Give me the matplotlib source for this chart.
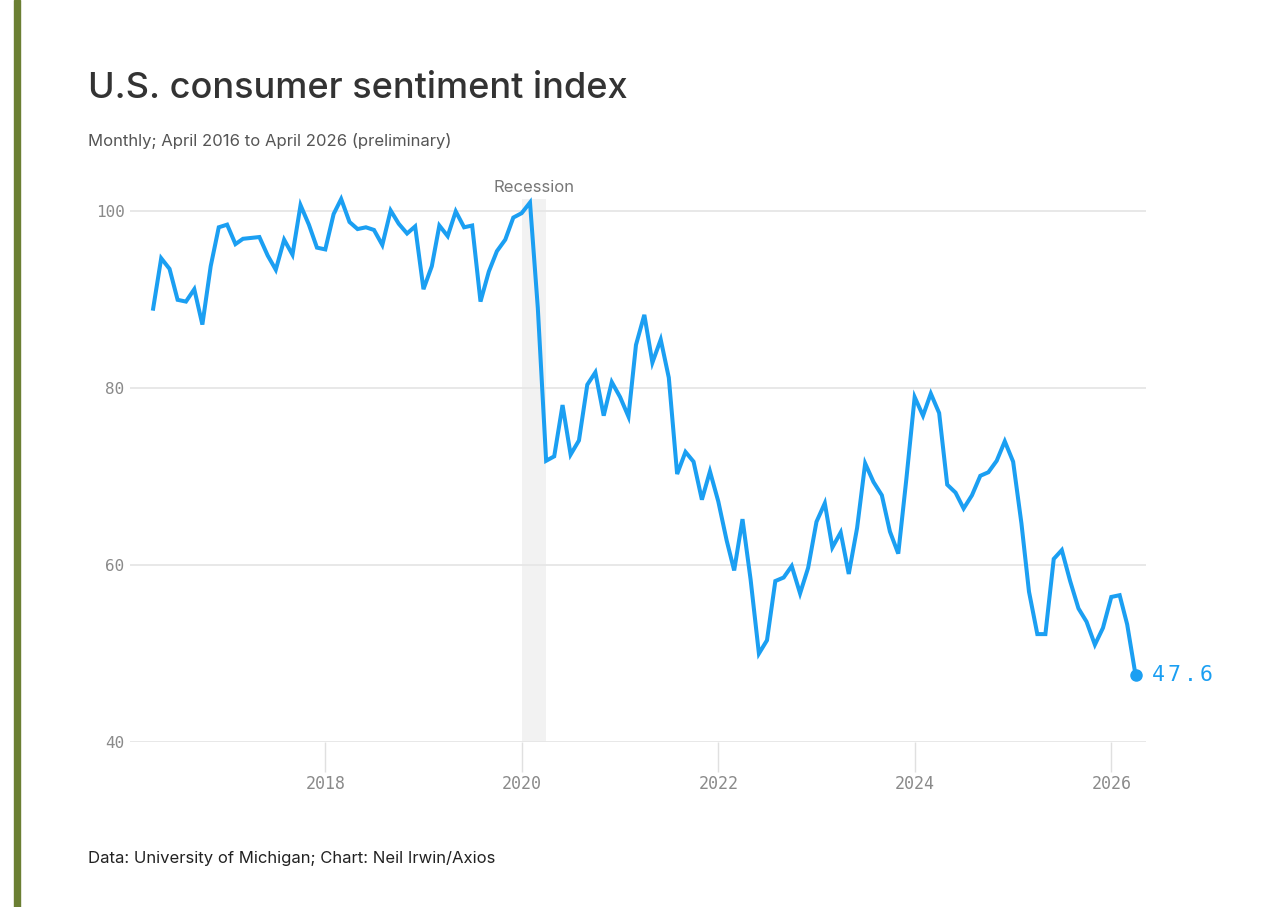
import matplotlib
matplotlib.use("Agg")
import matplotlib.pyplot as plt
import pandas as pd

# monthly index values, April 2016 .. April 2026
v2016 = [89.0, 94.7, 93.5, 90.0, 89.8, 91.2, 87.2, 93.8, 98.2]
v2017 = [98.5, 96.3, 96.9, 97.0, 97.1, 95.0, 93.4, 96.8, 95.1, 100.7, 98.5, 95.9]
v2018 = [95.7, 99.7, 101.4, 98.8, 98.0, 98.2, 97.9, 96.2, 100.1, 98.6, 97.5, 98.3]
v2019 = [91.2, 93.8, 98.4, 97.2, 100.0, 98.2, 98.4, 89.8, 93.2, 95.5, 96.8, 99.3]
v2020 = [99.8, 101.0, 89.1, 71.8, 72.3, 78.1, 72.5, 74.1, 80.4, 81.8, 76.9, 80.7]
v2021 = [79.0, 76.8, 84.9, 88.3, 82.9, 85.5, 81.2, 70.3, 72.8, 71.7, 67.4, 70.6]
v2022 = [67.2, 62.8, 59.4, 65.2, 58.4, 50.0, 51.5, 58.2, 58.6, 59.9, 56.8, 59.7]
v2023 = [64.9, 67.0, 62.0, 63.7, 59.0, 64.2, 71.5, 69.4, 67.9, 63.8, 61.3, 69.7]
v2024 = [79.0, 76.9, 79.4, 77.2, 69.1, 68.2, 66.4, 67.9, 70.1, 70.5, 71.8, 74.0]
v2025 = [71.7, 64.7, 57.0, 52.2, 52.2, 60.7, 61.7, 58.2, 55.1, 53.6, 51.0, 52.9]
v2026 = [56.4, 56.6, 53.3, 47.6]

values = v2016 + v2017 + v2018 + v2019 + v2020 + v2021 + v2022 + v2023 + v2024 + v2025 + v2026
dates = pd.date_range("2016-04-01", periods=len(values), freq="MS")

recession = (pd.Timestamp("2020-01-01"), pd.Timestamp("2020-04-01"))
yticks = [40, 60, 80, 100]
xtick_years = [2018, 2020, 2022, 2024, 2026]

blue = "#1b9ff2"
grey_txt = "#8a8a8a"

fig = plt.figure(figsize=(12.8, 9.07), dpi=100)
fig.patch.set_facecolor("white")
ax = fig.add_axes([130 / 1280, 1 - 742 / 907, (1146 - 130) / 1280, (742 - 199) / 907])

# green side bar
fig.patches.append(plt.Rectangle((14 / 1280, 0), 6 / 1280, 1, transform=fig.transFigure,
                                 color="#6b7f33", zorder=0))

ax.axvspan(recession[0], recession[1], color="#f2f2f2", lw=0, zorder=0)
ax.text(recession[0] + (recession[1] - recession[0]) / 2, 101.4 + 1.35, "Recession",
        ha="center", va="center", fontsize=12, color="#777777", family="Inter")

for yv in yticks:
    ax.axhline(yv, color="#e6e6e6", lw=1.3, zorder=1)

ax.plot(dates, values, color=blue, lw=2.9, zorder=3, clip_on=False, solid_joinstyle="miter")
ax.plot(dates[-1], values[-1], "o", color=blue, ms=8, zorder=4, clip_on=False)

# end label, spaced monospace
label = f"{values[-1]:.1f}"
for i, ch in enumerate(label):
    ax.annotate(ch, (dates[-1], values[-1]), xytext=(11.5 + i * 11.6, 0),
                textcoords="offset points", ha="left", va="center",
                fontsize=15.5, color=blue, family="DejaVu Sans Mono", annotation_clip=False)

ax.set_xlim(pd.Timestamp("2016-01-06"), pd.Timestamp("2026-05-10"))
ax.set_ylim(40, 101.4)
ax.set_yticks(yticks)
ax.set_yticklabels([str(y) for y in yticks])
ax.set_xticks([pd.Timestamp(f"{y}-01-01") for y in xtick_years])
ax.set_xticklabels([str(y) for y in xtick_years])

for s in ax.spines.values():
    s.set_visible(False)
ax.tick_params(axis="y", length=0, pad=4, labelsize=11.5, labelcolor=grey_txt)
ax.tick_params(axis="x", length=21.5, width=1, color="#e0e0e0", pad=2,
               labelsize=12, labelcolor=grey_txt)
for lab in ax.get_xticklabels() + ax.get_yticklabels():
    lab.set_family("DejaVu Sans Mono")

fig.text(88 / 1280, 1 - 88 / 907, "U.S. consumer sentiment index", fontsize=26,
         color="#333333", family="Inter", weight="medium", va="center", ha="left")
fig.text(88 / 1280, 1 - 141 / 907, "Monthly; April 2016 to April 2026 (preliminary)",
         fontsize=12, color="#555555", family="Inter", va="center", ha="left")
fig.text(88 / 1280, 1 - 858 / 907, "Data: University of Michigan; Chart: Neil Irwin/Axios",
         fontsize=12, color="#222222", family="Inter", va="center", ha="left")

fig.savefig("out.png", dpi=100, facecolor="white")
